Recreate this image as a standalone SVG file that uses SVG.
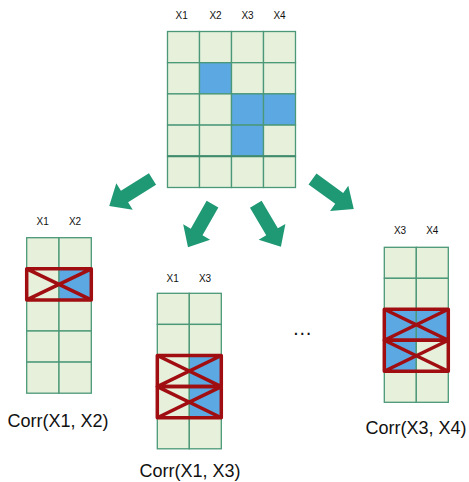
<svg xmlns="http://www.w3.org/2000/svg" width="469" height="482" viewBox="0 0 469 482">
<defs>
<style>
.c{fill:#e6f0da;stroke:#4a9878;stroke-width:1.3}
.b{fill:#5ca8e2;stroke:#4a9878;stroke-width:1.3}
.x{fill:none;stroke:#a10e12;stroke-width:3.5;stroke-linejoin:round}
.lbl{font-family:"Liberation Sans",Arial,sans-serif;font-size:10px;fill:#111;text-anchor:middle}
.corr{font-family:"Liberation Sans",Arial,sans-serif;font-size:18px;fill:#111;text-anchor:middle}
.arr{fill:#1f9874}
</style>
<path id="arrow" d="M0,-6.75 H33 V-15.5 L51,0 L33,15.5 V6.75 H0 Z"/>
</defs>
<rect width="469" height="482" fill="#ffffff"/>

<g id="source">
<g transform="translate(167.5,31.5)">
<rect class="c" x="0" y="0" width="32" height="31.2"/><rect class="c" x="32" y="0" width="32" height="31.2"/><rect class="c" x="64" y="0" width="32" height="31.2"/><rect class="c" x="96" y="0" width="32" height="31.2"/>
<rect class="c" x="0" y="31.2" width="32" height="31.2"/><rect class="b" x="32" y="31.2" width="32" height="31.2"/><rect class="c" x="64" y="31.2" width="32" height="31.2"/><rect class="c" x="96" y="31.2" width="32" height="31.2"/>
<rect class="c" x="0" y="62.4" width="32" height="31.2"/><rect class="c" x="32" y="62.4" width="32" height="31.2"/><rect class="b" x="64" y="62.4" width="32" height="31.2"/><rect class="b" x="96" y="62.4" width="32" height="31.2"/>
<rect class="c" x="0" y="93.6" width="32" height="31.2"/><rect class="c" x="32" y="93.6" width="32" height="31.2"/><rect class="b" x="64" y="93.6" width="32" height="31.2"/><rect class="c" x="96" y="93.6" width="32" height="31.2"/>
<rect class="c" x="0" y="124.8" width="32" height="31.2"/><rect class="c" x="32" y="124.8" width="32" height="31.2"/><rect class="c" x="64" y="124.8" width="32" height="31.2"/><rect class="c" x="96" y="124.8" width="32" height="31.2"/>
<line x1="0" y1="124.8" x2="128" y2="124.8" stroke="#3f8a6c" stroke-width="2"/>
</g>
<text class="lbl" x="181.7" y="18.6">X1</text>
<text class="lbl" x="215.5" y="18.6">X2</text>
<text class="lbl" x="247.5" y="18.6">X3</text>
<text class="lbl" x="279.5" y="18.6">X4</text>
</g>

<g id="connectors">
<use href="#arrow" class="arr" transform="translate(152.5,179) rotate(148)"/>
<use href="#arrow" class="arr" transform="translate(212.5,204.2) rotate(119.7) scale(0.97,1)"/>
<use href="#arrow" class="arr" transform="translate(255.8,204.2) rotate(59.5) scale(0.97,1)"/>
<use href="#arrow" class="arr" transform="translate(312.5,179) rotate(36)"/>
</g>

<g id="corr-x1-x2">
<g transform="translate(26.7,237.7)">
<rect class="c" x="0" y="0" width="32.3" height="31.1"/><rect class="c" x="32.3" y="0" width="32.3" height="31.1"/>
<rect class="c" x="0" y="31.1" width="32.3" height="31.1"/><rect class="b" x="32.3" y="31.1" width="32.3" height="31.1"/>
<rect class="c" x="0" y="62.2" width="32.3" height="31.1"/><rect class="c" x="32.3" y="62.2" width="32.3" height="31.1"/>
<rect class="c" x="0" y="93.3" width="32.3" height="31.1"/><rect class="c" x="32.3" y="93.3" width="32.3" height="31.1"/>
<rect class="c" x="0" y="124.4" width="32.3" height="31.1"/><rect class="c" x="32.3" y="124.4" width="32.3" height="31.1"/>
<path class="x" d="M0,31.1 H64.6 V62.2 H0 Z M0,31.1 L64.6,62.2 M64.6,31.1 L0,62.2"/>
</g>
<text class="lbl" x="42.7" y="224.6">X1</text>
<text class="lbl" x="75" y="224.6">X2</text>
<text class="corr" x="58" y="426.5">Corr(X1, X2)</text>
</g>

<g id="corr-x1-x3">
<g transform="translate(157.3,293.3)">
<rect class="c" x="0" y="0" width="32" height="31.1"/><rect class="c" x="32" y="0" width="32" height="31.1"/>
<rect class="c" x="0" y="31.1" width="32" height="31.1"/><rect class="c" x="32" y="31.1" width="32" height="31.1"/>
<rect class="c" x="0" y="62.2" width="32" height="31.1"/><rect class="b" x="32" y="62.2" width="32" height="31.1"/>
<rect class="c" x="0" y="93.3" width="32" height="31.1"/><rect class="b" x="32" y="93.3" width="32" height="31.1"/>
<rect class="c" x="0" y="124.4" width="32" height="31.1"/><rect class="c" x="32" y="124.4" width="32" height="31.1"/>
<path class="x" d="M0,62.2 H64 V93.3 H0 Z M0,62.2 L64,93.3 M64,62.2 L0,93.3"/>
<path class="x" d="M0,93.3 H64 V124.4 H0 Z M0,93.3 L64,124.4 M64,93.3 L0,124.4"/>
</g>
<text class="lbl" x="172.7" y="282">X1</text>
<text class="lbl" x="205" y="282">X3</text>
<text class="corr" x="190" y="476.5">Corr(X1, X3)</text>
</g>

<g id="ellipsis">
<text x="302.3" y="335" font-family="Liberation Sans, Arial, sans-serif" font-size="20" fill="#111" text-anchor="middle">…</text>
</g>

<g id="corr-x3-x4">
<g transform="translate(384.3,247.3)">
<rect class="c" x="0" y="0" width="32" height="31"/><rect class="c" x="32" y="0" width="32" height="31"/>
<rect class="c" x="0" y="31" width="32" height="31"/><rect class="c" x="32" y="31" width="32" height="31"/>
<rect class="b" x="0" y="62" width="32" height="31"/><rect class="b" x="32" y="62" width="32" height="31"/>
<rect class="b" x="0" y="93" width="32" height="31"/><rect class="c" x="32" y="93" width="32" height="31"/>
<rect class="c" x="0" y="124" width="32" height="31"/><rect class="c" x="32" y="124" width="32" height="31"/>
<path class="x" d="M0,62 H64 V93 H0 Z M0,62 L64,93 M64,62 L0,93"/>
<path class="x" d="M0,93 H64 V124 H0 Z M0,93 L64,124 M64,93 L0,124"/>
</g>
<text class="lbl" x="400" y="233.6">X3</text>
<text class="lbl" x="432.3" y="233.6">X4</text>
<text class="corr" x="416" y="434">Corr(X3, X4)</text>
</g>
</svg>
